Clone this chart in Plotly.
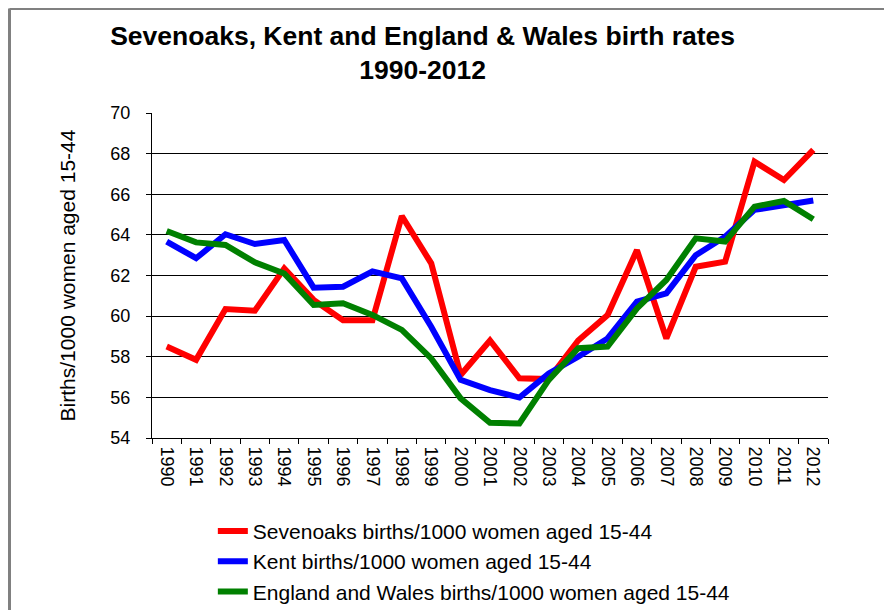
import plotly.graph_objects as go

# Birth rates per 1000 women aged 15-44
years = [str(y) for y in range(1990, 2013)]

sevenoaks = [58.5, 57.85, 60.35, 60.27, 62.35, 60.8, 59.8, 59.8, 64.93, 62.6, 57.1, 58.8,
             56.94, 56.9, 58.8, 60.05, 63.25, 58.9, 62.43, 62.68, 67.6, 66.7, 68.18]
kent = [63.67, 62.85, 64.03, 63.55, 63.75, 61.4, 61.45, 62.2, 61.86, 59.48, 56.86, 56.36,
        55.99, 57.18, 58.0, 58.9, 60.71, 61.12, 63.0, 63.91, 65.23, 65.47, 65.69]
eng_wales = [64.19, 63.63, 63.5, 62.65, 62.1, 60.55, 60.63, 60.06, 59.32, 57.92, 55.95, 54.75,
             54.72, 56.86, 58.42, 58.5, 60.38, 61.78, 63.83, 63.67, 65.39, 65.67, 64.77]

series = [
    ("Sevenoaks births/1000 women aged 15-44", sevenoaks, "#ff0000"),
    ("Kent births/1000 women aged 15-44", kent, "#0000ff"),
    ("England and Wales births/1000 women aged 15-44", eng_wales, "#008000"),
]

font = "Liberation Sans, Arial, sans-serif"

fig = go.Figure()
for name, vals, col in series:
    fig.add_trace(go.Scatter(x=years, y=vals, name=name, mode="lines",
                             line=dict(color=col, width=6)))

# page body adds an 8px margin, so the figure is a bit smaller than the window
fig.update_layout(
    width=884, height=602,
    margin=dict(l=144, r=64, t=105, b=172, autoexpand=False),
    paper_bgcolor="white", plot_bgcolor="white",
    font=dict(family=font, size=18, color="black"),
    title=dict(text="<b>Sevenoaks, Kent and England & Wales birth rates<br>1990-2012</b>",
               x=0.469, xanchor="center", y=0.939, yanchor="middle",
               font=dict(family=font, size=26.5, color="black")),
    legend=dict(x=0.090, xanchor="left", y=-0.224, yanchor="top",
                font=dict(family=font, size=21), bgcolor="rgba(0,0,0,0)",
                tracegroupgap=0),
    showlegend=True,
)

fig.update_xaxes(
    type="category", tickangle=90, tickson="boundaries",
    ticks="outside", ticklen=5, tickcolor="black",
    showline=True, linecolor="black", linewidth=1,
    showgrid=False, tickfont=dict(size=18), range=[-0.5, 22.5],
    ticklabelstandoff=4,
)
fig.update_yaxes(
    range=[54, 70], dtick=2, ticks="outside", ticklen=5, tickcolor="black",
    showline=True, linecolor="black", linewidth=1,
    showgrid=True, gridcolor="black", gridwidth=1.3,
    tickfont=dict(size=18), ticklabelstandoff=12, zeroline=False,
    title=dict(text="Births/1000 women aged 15-44", font=dict(size=21), standoff=29),
)

# grey frame along the top and left edges of the image
fig.add_shape(type="line", xref="paper", yref="paper",
              x0=-0.2108, x1=1.2, y0=1.3215, y1=1.3215,
              line=dict(color="#808080", width=3))
fig.add_shape(type="line", xref="paper", yref="paper",
              x0=-0.2108, x1=-0.2108, y0=1.3215, y1=-0.6,
              line=dict(color="#808080", width=3))

fig.write_html("out.html")
